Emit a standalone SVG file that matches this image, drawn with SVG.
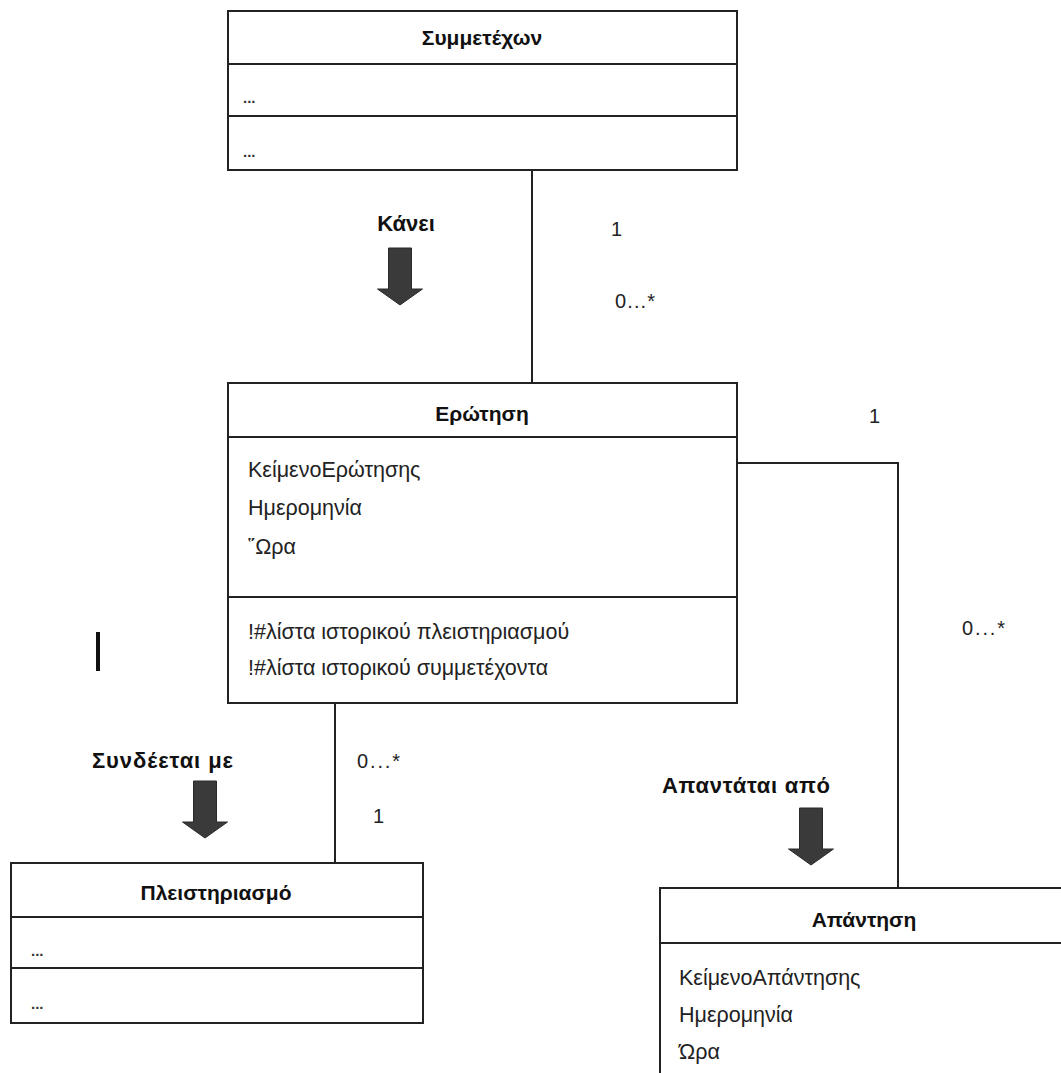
<svg xmlns="http://www.w3.org/2000/svg" width="1061" height="1073" viewBox="0 0 1061 1073">
<style>
.box{fill:#fff;stroke:#222;stroke-width:2}
.div{stroke:#222;stroke-width:2}
.conn{fill:none;stroke:#222;stroke-width:2}
.title{font-family:"Liberation Sans",Arial,sans-serif;font-size:21px;font-weight:bold;fill:#111;text-anchor:middle}
.attr{font-family:"Liberation Sans",Arial,sans-serif;font-size:21.5px;fill:#222}
.dots{font-family:"Liberation Sans",Arial,sans-serif;font-size:15px;font-weight:bold;fill:#333}
.lbl{font-family:"Liberation Sans",Arial,sans-serif;font-size:22px;font-weight:bold;fill:#111}
.mult{font-family:"Liberation Sans",Arial,sans-serif;font-size:20px;fill:#222}
.arrow{fill:#3a3a3a;stroke:#2a2a2a;stroke-width:1}
</style>
<defs>
<path id="blockArrow" d="M-11.5,-57 H11.5 V-16 H22.5 L0,0 L-22.5,-16 H-11.5 Z"/>
</defs>
<rect width="1061" height="1073" fill="#fff"/>

<g id="connectors">
<path class="conn" d="M532,170 V383"/>
<path class="conn" d="M737,463 H898 V888"/>
<path class="conn" d="M335,703 V863"/>
</g>

<g id="node-symmetexon">
<rect class="box" x="228" y="11" width="509" height="159"/>
<line class="div" x1="228" y1="64" x2="737" y2="64"/>
<line class="div" x1="228" y1="116" x2="737" y2="116"/>
<text class="title" x="482" y="45">Συμμετέχων</text>
<text class="dots" x="243" y="103">...</text>
<text class="dots" x="243" y="157">...</text>
</g>

<g id="node-erotisi">
<rect class="box" x="228" y="383" width="509" height="320"/>
<line class="div" x1="228" y1="437" x2="737" y2="437"/>
<line class="div" x1="228" y1="597" x2="737" y2="597"/>
<text class="title" x="482" y="421">Ερώτηση</text>
<text class="attr" x="248" y="477">ΚείμενοΕρώτησης</text>
<text class="attr" x="248" y="515">Ημερομηνία</text>
<text class="attr" x="248" y="554">῞Ωρα</text>
<text class="attr" x="248" y="639">!#λίστα ιστορικού πλειστηριασμού</text>
<text class="attr" x="248" y="675">!#λίστα ιστορικού συμμετέχοντα</text>
</g>

<g id="node-pleistiriasmo">
<rect class="box" x="11" y="863" width="412" height="160"/>
<line class="div" x1="11" y1="917" x2="423" y2="917"/>
<line class="div" x1="11" y1="968" x2="423" y2="968"/>
<text class="title" x="216" y="900">Πλειστηριασμό</text>
<text class="dots" x="31" y="956">...</text>
<text class="dots" x="31" y="1009">...</text>
</g>

<g id="node-apantisi">
<rect class="box" x="660" y="888" width="408" height="200"/>
<line class="div" x1="660" y1="943" x2="1068" y2="943"/>
<text class="title" x="864" y="927">Απάντηση</text>
<text class="attr" x="679" y="985">ΚείμενοΑπάντησης</text>
<text class="attr" x="679" y="1022">Ημερομηνία</text>
<text class="attr" x="679" y="1059">Ώρα</text>
</g>

<g id="labels">
<text class="lbl" x="406" y="231" text-anchor="middle">Κάνει</text>
<use href="#blockArrow" class="arrow" x="400" y="305"/>
<text class="mult" x="611" y="236">1</text>
<text class="mult" x="615" y="308" textLength="40">0...*</text>
<text class="mult" x="869" y="423">1</text>
<text class="mult" x="962" y="635" textLength="43">0...*</text>
<text class="lbl" x="92" y="768" textLength="141">Συνδέεται με</text>
<use href="#blockArrow" class="arrow" x="205" y="838"/>
<text class="mult" x="357" y="768" textLength="43">0...*</text>
<text class="mult" x="373" y="823">1</text>
<text class="lbl" x="662" y="793" textLength="168">Απαντάται από</text>
<use href="#blockArrow" class="arrow" x="811" y="865"/>
</g>

<rect x="96" y="632" width="4" height="39" fill="#111"/>
</svg>
